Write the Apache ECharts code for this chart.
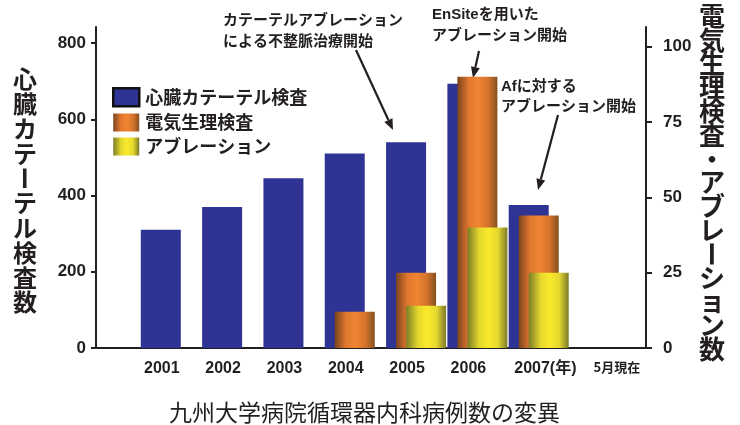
<!DOCTYPE html>
<html>
<head>
<meta charset="utf-8">
<script src="https://cdn.jsdelivr.net/npm/echarts@6/dist/echarts.min.js"></script>
<style>
  html, body { margin: 0; padding: 0; background: #fff; }
  #chart { width: 740px; height: 425px; }
</style>
</head>
<body>
<div id="chart"></div>
<script>
// Yearly case counts, cardiology department
const years = [2001, 2002, 2003, 2004, 2005, 2006, 2007];
const yearLabels = ['2001', '2002', '2003', '2004', '2005', '2006', '2007(年)'];
const yearNote = '5月現在';
const catheterExams = [310, 370, 445, 510, 540, 693, 375];   // left axis
const epStudies = [null, null, null, 12, 25, 90, 44];         // right axis
const ablations = [null, null, null, null, 14, 40, 25];       // right axis
const leftTicks = [0, 200, 400, 600, 800];
const rightTicks = [0, 25, 50, 75, 100];
const seriesNames = ['心臓カテーテル検査', '電気生理検査', 'アブレーション'];
const leftTitle = '心臓カテーテル検査数';
const rightTitle = '電気生理検査・アブレーション数';
const bottomTitle = '九州大学病院循環器内科病例数の変異';
const notes = [
  ['カテーテルアブレーション', 'による不整脈治療開始'],
  ['EnSiteを用いた', 'アブレーション開始'],
  ['Afに対する', 'アブレーション開始']
];

const INK = '#231f20';
const LATIN = '"Liberation Sans", Arial, "Noto Sans CJK JP", sans-serif';
const CJK = '"Noto Sans CJK JP", "Noto Sans CJK SC", sans-serif';

const cylinder = (stops) => ({
  type: 'linear', x: 0, y: 0, x2: 1, y2: 0,
  colorStops: stops.map(([offset, color]) => ({ offset, color }))
});
const blue = '#2f3494';
const orange = cylinder([[0, '#7a431f'], [0.28, '#e0772e'], [0.52, '#f08532'], [0.78, '#d2722c'], [1, '#83501f']]);
const yellow = cylinder([[0, '#7c7d27'], [0.3, '#e4d82c'], [0.52, '#fbe92c'], [0.76, '#e6d92e'], [1, '#7c7b28']]);

const pairs = (vals) => years.map((y, i) => [y, vals[i]]);

// vertical, one-glyph-per-row titles (long vowel mark turned upright)
function verticalText(str, cx, cy0, step, size) {
  return Array.from(str).map((ch, i) => ({
    type: 'text',
    x: cx, y: cy0 + i * step,
    rotation: ch === 'ー' ? Math.PI / 2 : 0,
    style: { text: ch, align: 'center', verticalAlign: 'middle',
             font: 'bold ' + size + 'px ' + CJK, fill: INK }
  }));
}

function arrow(x1, y1, x2, y2) {
  const a = Math.atan2(y2 - y1, x2 - x1);
  const len = 11, half = 4.5;
  const bx = x2 - len * Math.cos(a), by = y2 - len * Math.sin(a);
  const px = -Math.sin(a) * half, py = Math.cos(a) * half;
  return [
    { type: 'line', shape: { x1, y1, x2: bx, y2: by }, style: { stroke: INK, lineWidth: 2.2 } },
    { type: 'polygon', shape: { points: [[x2, y2], [bx + px, by + py], [bx - px, by - py]] }, style: { fill: INK } }
  ];
}

function noteText(lines, x, yTop, lh) {
  return lines.map((t, i) => ({
    type: 'text', x, y: yTop + i * lh,
    style: { text: t, align: 'left', verticalAlign: 'middle',
             font: 'bold 15px ' + LATIN, fill: INK }
  }));
}

const chart = echarts.init(document.getElementById('chart'), null, { renderer: 'canvas' });

chart.setOption({
  animation: false,
  backgroundColor: '#ffffff',
  title: {
    text: bottomTitle, left: 164, top: 396,
    textStyle: { fontFamily: CJK, fontSize: 23, fontWeight: 'normal', color: INK }
  },
  legend: {
    orient: 'vertical', left: 107, top: 82,
    itemWidth: 26, itemHeight: 18, itemGap: 6,
    icon: 'rect',
    textStyle: { fontFamily: CJK, fontSize: 18, fontWeight: 'bold', color: INK, padding: [0, 0, 0, 1] },
    data: [
      { name: seriesNames[0], itemStyle: { borderColor: '#111', borderWidth: 2.5 } },
      { name: seriesNames[1] },
      { name: seriesNames[2] }
    ]
  },
  grid: { left: 96, right: 94, top: 27, bottom: 77, containLabel: false, outerBoundsMode: 'none' },
  xAxis: {
    type: 'value', min: 1999.78, max: 2008.75,
    axisLine: { show: true, onZero: false, lineStyle: { color: INK, width: 2 } },
    axisTick: { show: false },
    splitLine: { show: false },
    axisLabel: {
      customValues: years, margin: 13,
      formatter: (v) => {
        const i = years.indexOf(Math.round(v));
        if (i < 0) return '';
        return i === years.length - 1
          ? '{y|' + yearLabels[i] + '}{s|' + yearNote + '}'
          : '{a|' + yearLabels[i] + '}';
      },
      rich: {
        a: { fontFamily: LATIN, fontSize: 16, fontWeight: 'bold', color: INK, padding: [0, 18, 0, 0] },
        y: { fontFamily: LATIN, fontSize: 16, fontWeight: 'bold', color: INK, padding: [0, 17, 0, 77] },
        s: { fontFamily: CJK, fontSize: 13, fontWeight: 'bold', color: INK, padding: [0, 0, 3, 0] }
      }
    }
  },
  yAxis: [
    {
      type: 'value', min: 0, max: 842, position: 'left',
      axisLine: { show: true, lineStyle: { color: INK, width: 2 } },
      axisTick: { show: true, customValues: leftTicks, length: 5, lineStyle: { color: INK, width: 2 } },
      splitLine: { show: false },
      axisLabel: { customValues: leftTicks, margin: 10, fontFamily: LATIN, fontSize: 17, fontWeight: 'bold', color: INK }
    },
    {
      type: 'value', min: 0, max: 106.5, position: 'right',
      axisLine: { show: true, lineStyle: { color: INK, width: 2 } },
      axisTick: { show: true, customValues: rightTicks, length: 6, lineStyle: { color: INK, width: 2 } },
      splitLine: { show: false },
      axisLabel: { customValues: rightTicks, margin: 17, fontFamily: LATIN, fontSize: 17, fontWeight: 'bold', color: INK }
    }
  ],
  series: [
    { name: seriesNames[0], type: 'bar', yAxisIndex: 0, barWidth: 40, barGap: '-75%',
      itemStyle: { color: blue }, data: pairs(catheterExams) },
    { name: seriesNames[1], type: 'bar', yAxisIndex: 1, barWidth: 40, barGap: '-75%',
      itemStyle: { color: orange }, data: pairs(epStudies) },
    { name: seriesNames[2], type: 'bar', yAxisIndex: 1, barWidth: 40, barGap: '-75%',
      itemStyle: { color: yellow }, data: pairs(ablations) }
  ],
  graphic: [
    ...verticalText(leftTitle, 25, 79, 24.8, 24),
    ...verticalText(rightTitle, 712, 16, 23.8, 26),
    ...noteText(notes[0], 223, 21, 21),
    ...noteText(notes[1], 432, 15, 21),
    ...noteText(notes[2], 501, 87, 20),
    ...arrow(356, 50, 393, 130),
    ...arrow(479, 51, 473, 78),
    ...arrow(558, 115, 538, 190)
  ]
});
</script>
</body>
</html>
